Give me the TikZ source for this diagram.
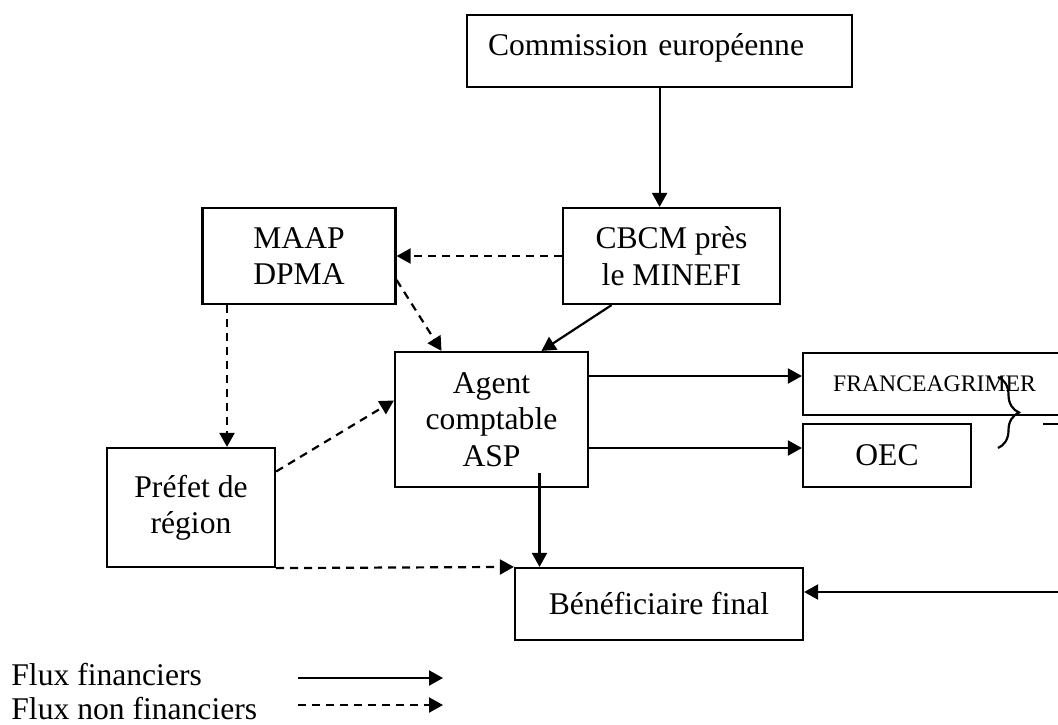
\documentclass[tikz,border=0pt]{standalone}
\usepackage{fontspec}
\setmainfont{Liberation Serif}
\usepackage{tikz}
\usetikzlibrary{arrows.meta, calc, decorations.pathreplacing}

\begin{document}
\begin{tikzpicture}[x=0.5pt, y=-0.5pt,
    every node/.style={font=\fontsize{15.8pt}{18.2pt}\selectfont},
    box/.style={draw, line width=1.1pt, inner sep=0pt, align=center},
    fin/.style={line width=1.1pt, -{Triangle[length=7pt, width=7.5pt]}},
    nonfin/.style={fin, dash pattern=on 4pt off 3pt}]
    \useasboundingbox (0, 0) rectangle (1058, 724);

    \node[box, anchor=north west, align=left, text width=171.5pt, inner xsep=10.5pt, inner ysep=8pt,
        text height=12pt, text depth=8pt] at (466, 14) (comm) {Commission européenne};
    \node[box, minimum width=108.5pt, minimum height=48pt] at (671.5, 256) (cbcm) {CBCM près\\le MINEFI};
    \node[box, minimum width=96.5pt, minimum height=48pt] at (299, 256) (maap) {MAAP\\DPMA};
    \node[box, minimum width=96.5pt, minimum height=67.5pt] at (491.5, 419.5) (agent) {Agent\\comptable\\ASP};
    \node[box, minimum width=131.5pt, minimum height=31pt, font=\fontsize{11.85pt}{14pt}\selectfont] at (934.5, 384) (fam) {FRANCEAGRIMER};
    \node[box, minimum width=84pt, minimum height=31.5pt] at (887, 455.5) (oec) {OEC};
    \node[box, minimum width=84pt, minimum height=59.5pt] at (191, 507.5) (prefet) {Préfet de\\région};
    \node[box, minimum width=144pt, minimum height=36pt] at (659, 604) (benef) {Bénéficiaire final};

    \node[anchor=base west, inner sep=0pt] at (11, 685) (legfin) {Flux financiers};
    \node[anchor=base west, inner sep=0pt] at (11, 719) (legnonfin) {Flux non financiers};

    \coordinate (maapout) at ($(maap.south)+(-72, 0)$);
    \coordinate (maapside) at ($(maap.east)+(0, 24)$);
    \coordinate (cbcmout) at ($(cbcm.south)+(-60, 0)$);
    \coordinate (prefetout) at ($(prefet.east)+(0, -36)$);
    \coordinate (agentin) at ($(agent.west)+(0, -19)$);
    \coordinate (agentfam) at ($(agent.east)+(0, -43.5)$);
    \coordinate (agentoec) at ($(agent.east)+(0, 28.5)$);
    \coordinate (agentdown) at ($(agent.south)+(48, -15)$);
    \coordinate (finA) at (298, 678);
    \coordinate (finB) at (443, 678);
    \coordinate (nonfinA) at (298, 705);
    \coordinate (nonfinB) at (443, 705);
    \coordinate (rin) at (1058, 592);
    \coordinate (tickA) at (1043, 424);
    \coordinate (tickB) at (1058, 424);
    \coordinate (braceA) at (998, 377);
    \coordinate (braceB) at (998, 448);

    \draw[fin] (comm.south) -- (comm.south |- cbcm.north);
    \draw[nonfin] (cbcm.west) -- (maap.east);
    \draw[nonfin] (maapside) -- ($(agent.north)+(-50, 0)$);
    \draw[fin] (cbcmout) -- ($(agent.north)+(50, 0)$);
    \draw[nonfin] (maapout) -- (maapout |- prefet.north);
    \draw[nonfin] (prefetout) -- (agentin);
    \draw[nonfin] (prefet.south east) -- (benef.north west);
    \draw[fin] (agentfam) -- (agentfam -| fam.west);
    \draw[fin] (agentoec) -- (agentoec -| oec.west);
    \draw[fin] (agentdown) -- (agentdown |- benef.north);
    \draw[fin] (rin) -- (rin -| benef.east);

    \draw[line width=1.1pt, decorate, decoration={brace, amplitude=10.5pt}] (braceA) -- (braceB);
    \draw[line width=1.1pt] (tickA) -- (tickB);

    \draw[fin] (finA) -- (finB);
    \draw[nonfin] (nonfinA) -- (nonfinB);
\end{tikzpicture}
\end{document}
